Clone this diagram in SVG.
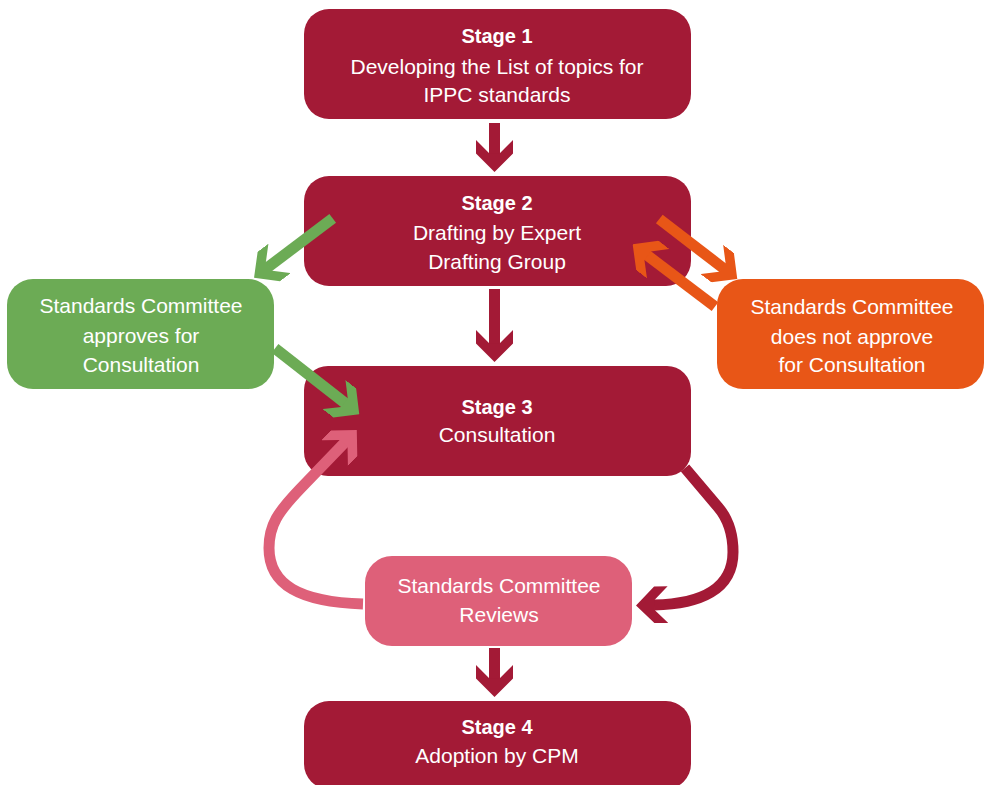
<svg xmlns="http://www.w3.org/2000/svg" width="987" height="785" viewBox="0 0 987 785">
<style>
.crimson{fill:#A31A36}
.green{fill:#6CAB55}
.orange{fill:#E85617}
.pink{fill:#DE6079}
text{font-family:"Liberation Sans",Arial,sans-serif;fill:#FFFFFF;text-anchor:middle;font-size:21px}
text.h{font-weight:bold;font-size:20px}
.c{fill:none;stroke-width:11;stroke-linecap:butt;stroke-linejoin:round}
.c-crimson{stroke:#A31A36;marker-end:url(#head-crimson)}
.c-green{stroke:#6CAB55;marker-end:url(#head-green)}
.c-orange{stroke:#E85617;marker-end:url(#head-orange)}
.c-pink{stroke:#DE6079;marker-end:url(#head-pink)}
</style>
<defs>
<marker id="head-crimson" markerUnits="userSpaceOnUse" viewBox="0 0 32 37" markerWidth="32" markerHeight="37" refX="14" refY="18.5" orient="auto"><polygon fill="#A31A36" points="32,18.5 13.5,37 0,37 13.2,23.8 13.2,13.2 0,0 13.5,0"/></marker>
<marker id="head-green" markerUnits="userSpaceOnUse" viewBox="0 0 32 37" markerWidth="32" markerHeight="37" refX="14" refY="18.5" orient="auto"><polygon fill="#6CAB55" points="32,18.5 13.5,37 0,37 13.2,23.8 13.2,13.2 0,0 13.5,0"/></marker>
<marker id="head-orange" markerUnits="userSpaceOnUse" viewBox="0 0 32 37" markerWidth="32" markerHeight="37" refX="14" refY="18.5" orient="auto"><polygon fill="#E85617" points="32,18.5 13.5,37 0,37 13.2,23.8 13.2,13.2 0,0 13.5,0"/></marker>
<marker id="head-pink" markerUnits="userSpaceOnUse" viewBox="0 0 32 37" markerWidth="32" markerHeight="37" refX="14" refY="18.5" orient="auto"><polygon fill="#DE6079" points="32,18.5 13.5,37 0,37 13.2,23.8 13.2,13.2 0,0 13.5,0"/></marker>
</defs>
<rect width="987" height="785" fill="#FFFFFF"/>
<g id="stage1">
<rect class="crimson" x="304" y="9" width="387" height="110" rx="25"/>
<text class="h" x="497" y="43">Stage 1</text>
<text x="497" y="74">Developing the List of topics for</text>
<text x="497" y="102">IPPC standards</text>
</g>
<g id="stage2">
<rect class="crimson" x="304" y="176" width="387" height="110" rx="25"/>
<text class="h" x="497" y="210">Stage 2</text>
<text x="497" y="239.5">Drafting by Expert</text>
<text x="497" y="268.5">Drafting Group</text>
</g>
<g id="approves">
<rect class="green" x="7" y="279" width="267" height="110" rx="26"/>
<text x="141" y="313">Standards Committee</text>
<text x="141" y="342.5">approves for</text>
<text x="141" y="372">Consultation</text>
</g>
<g id="not-approve">
<rect class="orange" x="717" y="279" width="267" height="110" rx="26"/>
<text x="852" y="313.5">Standards Committee</text>
<text x="852" y="344">does not approve</text>
<text x="852" y="372">for Consultation</text>
</g>
<g id="stage3">
<rect class="crimson" x="304" y="366" width="387" height="110" rx="24"/>
<text class="h" x="497" y="413.5">Stage 3</text>
<text x="497" y="442">Consultation</text>
</g>
<g id="reviews">
<rect class="pink" x="365" y="556" width="267" height="90" rx="27"/>
<text x="499" y="593">Standards Committee</text>
<text x="499" y="622">Reviews</text>
</g>
<g id="stage4">
<rect class="crimson" x="304" y="701" width="387" height="88" rx="25"/>
<text class="h" x="497" y="734">Stage 4</text>
<text x="497" y="763">Adoption by CPM</text>
</g>
<g id="connectors">
<path class="c c-crimson" d="M494.5,123 V154"/>
<path class="c c-crimson" d="M494.5,289 V344"/>
<path class="c c-crimson" d="M494.5,648 V679"/>
<path class="c c-green" d="M332.7,218.3 L268.4,266.9"/>
<path class="c c-green" d="M275,348.3 L345.1,403.2"/>
<path class="c c-orange" d="M659.3,219 L723,268"/>
<path class="c c-orange" d="M715,306.7 L647,255.2"/>
<path class="c c-pink" d="M363,604 C300,602 269,585 269,548 C269,525 278,512 300,489 L344.3,443"/>
<path class="c c-crimson" d="M685,468 L718,507 C730,521 733,536 733,552 C733,590 700,604 654,605"/>
</g>
</svg>
